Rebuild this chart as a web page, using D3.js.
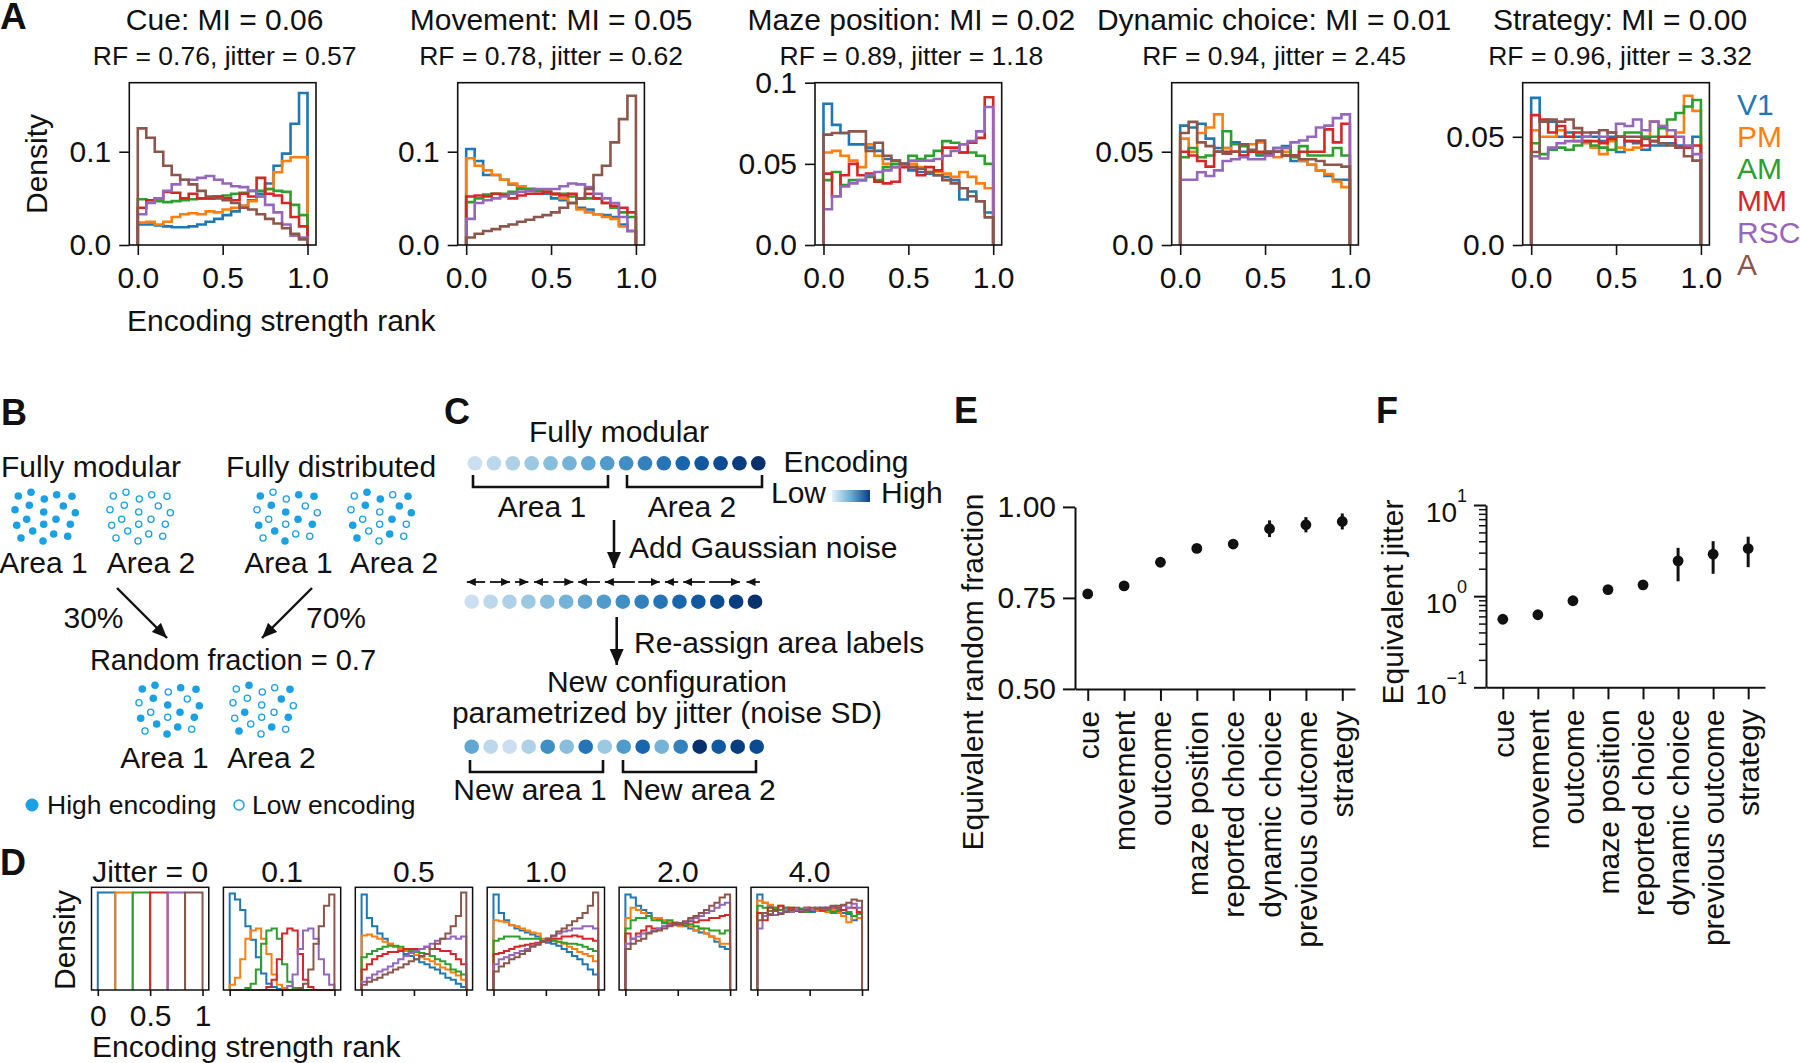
<!DOCTYPE html>
<html>
<head>
<meta charset="utf-8">
<script src="https://cdn.jsdelivr.net/npm/d3@7/dist/d3.min.js"></script>
<style>
html,body{margin:0;padding:0;background:#fff;}
svg{display:block;}
text{font-family:"Liberation Sans",Arial,Helvetica,sans-serif;fill:#111;}
</style>
</head>
<body>
<svg id="fig" width="1800" height="1063" viewBox="0 0 1800 1063"></svg>
<script>
// ================= DATA =================
const areas = ["V1","PM","AM","MM","RSC","A"];
const areaColors = ["#1f77b4","#ff7f0e","#2ca02c","#d62728","#9467bd","#8c564b"];
const binEdges = [0,0.05,0.1,0.15,0.2,0.25,0.3,0.35,0.4,0.45,0.5,0.55,0.6,0.65,0.7,0.75,0.8,0.85,0.9,0.95,1.0];

// Panel A
const aTitles = ["Cue: MI = 0.06","Movement: MI = 0.05","Maze position: MI = 0.02","Dynamic choice: MI = 0.01","Strategy: MI = 0.00"];
const aSubtitles = ["RF = 0.76, jitter = 0.57","RF = 0.78, jitter = 0.62","RF = 0.89, jitter = 1.18","RF = 0.94, jitter = 2.45","RF = 0.96, jitter = 3.32"];
const aXTicks = [0,0.5,1.0];
const aXTickLabels = ["0.0","0.5","1.0"];
const aYMax = [0.174,0.174,0.1,0.087,0.075];
const aYTicks = [[0,0.1],[0,0.1],[0,0.05,0.1],[0,0.05],[0,0.05]];
const aYTickLabels = [["0.0","0.1"],["0.0","0.1"],["0.0","0.05","0.1"],["0.0","0.05"],["0.0","0.05"]];

const cueHist = [
 [0.022,0.022,0.021,0.02,0.019,0.019,0.02,0.022,0.025,0.028,0.032,0.036,0.042,0.048,0.055,0.066,0.085,0.098,0.13,0.163],
 [0.024,0.025,0.022,0.025,0.03,0.033,0.034,0.033,0.036,0.035,0.038,0.04,0.042,0.047,0.052,0.06,0.078,0.09,0.094,0.094],
 [0.049,0.048,0.047,0.046,0.047,0.048,0.049,0.05,0.05,0.052,0.053,0.055,0.056,0.058,0.058,0.06,0.058,0.057,0.043,0.032],
 [0.04,0.048,0.05,0.057,0.056,0.05,0.055,0.05,0.05,0.052,0.05,0.048,0.055,0.052,0.072,0.055,0.053,0.045,0.03,0.02],
 [0.033,0.045,0.05,0.058,0.065,0.07,0.07,0.072,0.074,0.07,0.066,0.063,0.062,0.058,0.052,0.043,0.035,0.022,0.01,0.008],
 [0.125,0.115,0.1,0.085,0.075,0.07,0.065,0.058,0.052,0.05,0.048,0.045,0.04,0.038,0.033,0.028,0.023,0.018,0.012,0.006]
];
const movementHist = [
 [0.103,0.09,0.075,0.075,0.07,0.065,0.062,0.06,0.058,0.055,0.05,0.048,0.045,0.04,0.038,0.033,0.032,0.03,0.022,0.015],
 [0.093,0.085,0.08,0.075,0.07,0.066,0.063,0.06,0.058,0.057,0.054,0.05,0.045,0.038,0.035,0.033,0.03,0.028,0.02,0.015],
 [0.046,0.05,0.054,0.055,0.055,0.057,0.06,0.06,0.058,0.057,0.055,0.055,0.052,0.05,0.05,0.05,0.045,0.04,0.035,0.03],
 [0.052,0.053,0.052,0.055,0.053,0.05,0.053,0.055,0.055,0.057,0.055,0.053,0.055,0.05,0.055,0.05,0.045,0.042,0.04,0.035],
 [0.028,0.045,0.048,0.05,0.052,0.055,0.057,0.058,0.06,0.06,0.06,0.063,0.066,0.065,0.062,0.055,0.05,0.045,0.03,0.015],
 [0.008,0.012,0.015,0.017,0.02,0.022,0.025,0.027,0.03,0.032,0.035,0.04,0.045,0.05,0.06,0.075,0.085,0.11,0.135,0.16]
];
const mazePositionHist = [
 [0.087,0.074,0.069,0.062,0.062,0.06,0.058,0.053,0.052,0.05,0.046,0.045,0.044,0.043,0.042,0.04,0.028,0.033,0.027,0.02],
 [0.057,0.058,0.055,0.052,0.048,0.062,0.055,0.05,0.048,0.05,0.05,0.048,0.045,0.045,0.044,0.042,0.045,0.042,0.038,0.035],
 [0.04,0.045,0.037,0.04,0.04,0.042,0.04,0.048,0.05,0.05,0.055,0.053,0.055,0.058,0.064,0.063,0.057,0.057,0.055,0.05],
 [0.044,0.03,0.043,0.05,0.043,0.044,0.039,0.038,0.039,0.048,0.048,0.043,0.048,0.046,0.06,0.06,0.057,0.063,0.066,0.091],
 [0.022,0.03,0.036,0.038,0.04,0.043,0.045,0.046,0.048,0.05,0.052,0.052,0.052,0.053,0.055,0.058,0.062,0.064,0.07,0.085],
 [0.068,0.069,0.069,0.07,0.07,0.058,0.063,0.055,0.052,0.05,0.048,0.047,0.045,0.043,0.04,0.038,0.035,0.03,0.027,0.017]
];
const dynamicChoiceHist = [
 [0.064,0.063,0.065,0.057,0.052,0.052,0.055,0.05,0.05,0.048,0.05,0.052,0.053,0.045,0.045,0.043,0.04,0.037,0.035,0.035],
 [0.057,0.05,0.06,0.063,0.07,0.052,0.05,0.048,0.054,0.055,0.048,0.047,0.05,0.048,0.045,0.043,0.04,0.038,0.034,0.031],
 [0.047,0.052,0.047,0.048,0.05,0.061,0.054,0.053,0.05,0.049,0.05,0.05,0.052,0.047,0.053,0.048,0.048,0.048,0.052,0.048],
 [0.05,0.048,0.045,0.042,0.05,0.05,0.05,0.048,0.05,0.05,0.049,0.05,0.048,0.048,0.05,0.05,0.05,0.062,0.055,0.065],
 [0.035,0.035,0.039,0.037,0.04,0.045,0.046,0.047,0.046,0.046,0.048,0.052,0.052,0.055,0.056,0.058,0.063,0.064,0.068,0.07],
 [0.06,0.066,0.055,0.053,0.05,0.049,0.05,0.054,0.051,0.056,0.05,0.05,0.048,0.048,0.046,0.046,0.045,0.043,0.043,0.042]
];
const strategyHist = [
 [0.068,0.057,0.057,0.05,0.052,0.05,0.05,0.05,0.048,0.05,0.043,0.048,0.047,0.044,0.046,0.046,0.047,0.046,0.045,0.05],
 [0.053,0.05,0.05,0.053,0.05,0.048,0.047,0.045,0.042,0.048,0.045,0.044,0.045,0.05,0.057,0.055,0.05,0.052,0.069,0.062],
 [0.047,0.042,0.044,0.045,0.044,0.046,0.048,0.046,0.045,0.044,0.05,0.052,0.052,0.05,0.05,0.054,0.058,0.061,0.064,0.067],
 [0.06,0.058,0.052,0.055,0.05,0.052,0.048,0.048,0.047,0.049,0.05,0.048,0.048,0.046,0.048,0.05,0.05,0.045,0.045,0.046],
 [0.041,0.04,0.045,0.047,0.048,0.048,0.05,0.052,0.05,0.052,0.056,0.055,0.058,0.053,0.057,0.055,0.053,0.05,0.046,0.042],
 [0.043,0.057,0.058,0.057,0.058,0.054,0.052,0.052,0.053,0.052,0.05,0.05,0.05,0.049,0.048,0.047,0.046,0.045,0.041,0.039]
];

// Panel D (density in arbitrary units, fraction of axis height)
const dTitles = ["Jitter = 0","0.1","0.5","1.0","2.0","4.0"];
const dXTicks = [0,0.5,1];
const dXTickLabels = ["0","0.5","1"];
const jitter0Edges = [0,0.1667,0.3333,0.5,0.6667,0.8333,1];
const jitter0Density = [0.95,0.95,0.95,0.95,0.95,0.95];
const jitter01Hist = [
 [0.94,0.88,0.78,0.62,0.49,0.32,0.16,0.06,0.03,0.01,0,0,0,0,0,0,0,0,0,0],
 [0.05,0.12,0.3,0.5,0.58,0.6,0.5,0.35,0.15,0.05,0.02,0,0,0,0,0,0,0,0,0],
 [0,0,0,0.02,0.06,0.2,0.45,0.58,0.6,0.5,0.25,0.08,0.02,0,0,0,0,0,0,0],
 [0,0,0,0,0,0,0,0.03,0.1,0.3,0.55,0.6,0.58,0.35,0.1,0.03,0,0,0,0],
 [0,0,0,0,0,0,0,0,0,0,0,0.04,0.15,0.4,0.58,0.6,0.5,0.3,0.15,0.05],
 [0,0,0,0,0,0,0,0,0,0,0,0,0,0.02,0.06,0.2,0.45,0.62,0.82,0.93]
];
const jitter05Hist = [
 [0.93,0.7,0.62,0.55,0.5,0.45,0.42,0.38,0.35,0.33,0.3,0.27,0.25,0.22,0.2,0.16,0.12,0.1,0.06,0.03],
 [0.53,0.54,0.52,0.5,0.47,0.45,0.42,0.4,0.38,0.36,0.34,0.32,0.3,0.28,0.25,0.22,0.2,0.17,0.14,0.1],
 [0.32,0.35,0.38,0.4,0.42,0.43,0.43,0.42,0.4,0.38,0.37,0.36,0.35,0.33,0.3,0.28,0.25,0.2,0.18,0.15],
 [0.2,0.25,0.3,0.33,0.35,0.37,0.37,0.38,0.4,0.4,0.4,0.4,0.42,0.4,0.4,0.38,0.38,0.35,0.3,0.25],
 [0.08,0.12,0.15,0.18,0.2,0.23,0.26,0.3,0.33,0.36,0.38,0.4,0.42,0.45,0.48,0.5,0.5,0.52,0.5,0.52],
 [0.05,0.08,0.1,0.12,0.15,0.17,0.2,0.22,0.25,0.28,0.3,0.33,0.35,0.4,0.45,0.5,0.55,0.62,0.72,0.95]
];
const jitter10Hist = [
 [0.93,0.75,0.68,0.63,0.6,0.58,0.56,0.54,0.52,0.48,0.46,0.45,0.43,0.4,0.37,0.33,0.3,0.25,0.2,0.15],
 [0.68,0.67,0.66,0.63,0.62,0.6,0.58,0.56,0.55,0.5,0.5,0.48,0.47,0.45,0.42,0.4,0.37,0.35,0.33,0.28],
 [0.48,0.5,0.52,0.52,0.52,0.5,0.5,0.5,0.5,0.48,0.5,0.48,0.47,0.46,0.45,0.45,0.44,0.42,0.4,0.38],
 [0.35,0.36,0.38,0.4,0.42,0.43,0.44,0.45,0.46,0.47,0.48,0.5,0.5,0.52,0.52,0.53,0.52,0.5,0.5,0.48],
 [0.25,0.3,0.32,0.34,0.36,0.38,0.4,0.43,0.45,0.47,0.5,0.52,0.55,0.57,0.58,0.6,0.6,0.62,0.62,0.6],
 [0.18,0.23,0.26,0.3,0.32,0.35,0.38,0.42,0.44,0.47,0.5,0.53,0.57,0.6,0.63,0.67,0.7,0.75,0.82,0.95]
];
const jitter20Hist = [
 [0.93,0.9,0.82,0.78,0.75,0.7,0.68,0.66,0.65,0.65,0.63,0.62,0.6,0.58,0.56,0.55,0.52,0.47,0.42,0.4],
 [0.7,0.8,0.78,0.75,0.72,0.7,0.7,0.68,0.66,0.66,0.62,0.65,0.62,0.58,0.6,0.55,0.52,0.5,0.45,0.45],
 [0.6,0.68,0.7,0.7,0.72,0.68,0.68,0.65,0.68,0.65,0.65,0.63,0.64,0.62,0.6,0.6,0.58,0.58,0.55,0.58],
 [0.55,0.5,0.55,0.58,0.62,0.6,0.6,0.62,0.63,0.65,0.64,0.65,0.67,0.66,0.68,0.68,0.7,0.7,0.72,0.73],
 [0.45,0.5,0.52,0.55,0.56,0.58,0.6,0.62,0.63,0.63,0.65,0.66,0.68,0.7,0.72,0.75,0.77,0.8,0.83,0.85],
 [0.4,0.45,0.48,0.5,0.55,0.57,0.58,0.6,0.62,0.64,0.65,0.67,0.7,0.72,0.75,0.78,0.82,0.85,0.9,0.93]
];
const jitter40Hist = [
 [0.93,0.85,0.82,0.8,0.78,0.8,0.78,0.77,0.79,0.78,0.76,0.77,0.8,0.77,0.76,0.78,0.75,0.74,0.68,0.7],
 [0.87,0.85,0.83,0.8,0.82,0.78,0.8,0.78,0.76,0.8,0.78,0.77,0.78,0.76,0.78,0.75,0.72,0.66,0.72,0.7],
 [0.82,0.8,0.77,0.8,0.78,0.8,0.77,0.78,0.79,0.76,0.78,0.8,0.77,0.78,0.75,0.77,0.78,0.76,0.72,0.74],
 [0.75,0.68,0.8,0.78,0.82,0.76,0.8,0.77,0.78,0.8,0.77,0.79,0.78,0.8,0.8,0.82,0.78,0.8,0.8,0.76],
 [0.6,0.72,0.74,0.73,0.75,0.77,0.76,0.78,0.77,0.8,0.78,0.8,0.79,0.8,0.81,0.8,0.82,0.8,0.84,0.8],
 [0.68,0.75,0.73,0.77,0.74,0.76,0.78,0.8,0.76,0.78,0.8,0.79,0.8,0.8,0.82,0.8,0.83,0.85,0.88,0.87]
];

// Panels E & F
const variables = ["cue","movement","outcome","maze position","reported choice","dynamic choice","previous outcome","strategy"];
const rfValues = [0.761,0.783,0.848,0.886,0.898,0.94,0.951,0.96];
const rfErr = [0.004,0.004,0.005,0.006,0.006,0.023,0.021,0.022];
const rfTicks = [0.5,0.75,1.0];
const rfTickLabels = ["0.50","0.75","1.00"];
const jitterValues = [0.558,0.625,0.89,1.18,1.33,2.44,2.89,3.33];
const jitterLo = [0.54,0.6,0.85,1.12,1.26,1.455,1.76,2.08];
const jitterHi = [0.58,0.65,0.93,1.24,1.4,3.39,4.01,4.49];
const jitterMajorTicks = [0.1,1,10];
const jitterExponents = ["\u22121","0","1"];
const jitterMinorTicks = [0.2,0.3,0.4,0.5,0.6,0.7,0.8,0.9,2,3,4,5,6,7,8,9];

// Panel B schematic
const dotPattern = [[-26.7,-21],[-14,-24.7],[-0.7,-18],[11.7,-22.3],[27,-20.7],[-15.7,-11.7],[-30,-7.3],[-1.3,-5],[18.3,-11],[30.3,-4.3],[-18.3,2.3],[11,2.3],[25.3,7.3],[-28.3,8.3],[-1.3,7.3],[-12.3,14],[8.7,17],[-24,21],[-2,24],[22.7,19.3]];
const modularArea1 = [1,1,1,1,1,1,1,1,1,1,1,1,1,1,1,1,1,1,1,1];
const modularArea2 = [0,0,0,0,0,0,0,0,0,0,0,0,0,0,0,0,0,0,0,0];
const distributedArea1 = [1,0,0,1,1,1,0,1,0,0,0,1,1,1,0,1,0,0,1,0];
const distributedArea2 = [0,1,1,0,1,1,0,0,1,1,0,1,0,1,0,0,1,1,0,0];
const mixedArea1 = [1,1,0,1,1,1,0,1,0,1,0,1,1,1,0,1,1,0,1,0];
const mixedArea2 = [0,1,0,0,1,0,0,0,1,0,1,0,1,0,0,0,1,1,0,0];

// Panel C schematic
const neuronRanks = [0,1,2,3,4,5,6,7,8,9,10,11,12,13,14,15];
const shuffledRanks = [6,1,0,2,8,4,10,3,7,11,5,9,15,12,14,13];
const noiseArrows = [[0.71,-0.26],[0.97,2.03],[2.29,3.0],[4.06,3.3],[4.32,5.38],[6.79,5.64],[8.64,7.05],[8.82,9.96],[10.93,10.23],[12.35,11.2],[12.57,14.2],[15.26,14.55]];

// ================= DRAW =================
const svg = d3.select("#fig");
const INK = "#111";
const FS = 30;
const defs = svg.append("defs");
function marker(id, len, wid) {
  defs.append("marker").attr("id", id).attr("markerUnits", "userSpaceOnUse")
    .attr("viewBox", `0 0 ${len} ${wid}`).attr("refX", len).attr("refY", wid / 2)
    .attr("markerWidth", len).attr("markerHeight", wid).attr("orient", "auto")
    .append("path").attr("d", `M0,0L${len},${wid / 2}L0,${wid}Z`).attr("fill", INK);
}
marker("arrowB", 15, 13);
marker("arrowC", 16, 14);
marker("arrowS", 9, 8);

function txt(x, y, s, o = {}) {
  const t = svg.append("text").attr("x", x).attr("y", y).text(s)
    .attr("font-size", o.size || FS).attr("text-anchor", o.anchor || "start");
  if (o.weight) t.attr("font-weight", o.weight);
  if (o.fill) t.style("fill", o.fill);
  if (o.dy) t.attr("dy", o.dy);
  if (o.rotate) t.attr("transform", `rotate(${o.rotate},${x},${y})`);
  return t;
}
function styleAxis(ax, size) {
  ax.attr("font-family", null).attr("font-size", null);
  ax.selectAll("line").attr("stroke", INK).attr("stroke-width", 1.6);
  ax.selectAll("path.domain").attr("stroke", INK).attr("stroke-width", 1.6);
  ax.selectAll("text").attr("font-size", size).style("fill", INK);
}
const lineGen = d3.line();
function stepPath(vals, edges, x, y) {
  const pts = [[x(edges[0]), y(0)]];
  vals.forEach((v, i) => { pts.push([x(edges[i]), y(v)]); pts.push([x(edges[i + 1]), y(v)]); });
  pts.push([x(edges[edges.length - 1]), y(0)]);
  return lineGen(pts);
}

// ---------- Panel A ----------
const aHists = [cueHist, movementHist, mazePositionHist, dynamicChoiceHist, strategyHist];
const aLefts = [129.3, 457.7, 815, 1171.7, 1522.7];
const aTitleShift = [2, 0, 3, 9, 4];
const aW = 186.7, aTop = 82.7, aBottom = 245;
aHists.forEach((hist, k) => {
  const L = aLefts[k];
  const x = d3.scaleLinear().domain([-0.05, 1.05]).range([L, L + aW]);
  const y = d3.scaleLinear().domain([0, aYMax[k]]).range([aBottom, aTop]);
  const g = svg.append("g");
  hist.forEach((vals, a) => {
    g.append("path").attr("d", stepPath(vals, binEdges, x, y)).attr("fill", "none")
      .attr("stroke", areaColors[a]).attr("stroke-width", 2.6);
  });
  g.append("rect").attr("x", L).attr("y", aTop).attr("width", aW).attr("height", aBottom - aTop)
    .attr("fill", "none").attr("stroke", INK).attr("stroke-width", 1.6);
  const xa = g.append("g").attr("transform", `translate(0,${aBottom})`)
    .call(d3.axisBottom(x).tickValues(aXTicks).tickFormat((d, i) => aXTickLabels[i]).tickSize(10).tickSizeOuter(0).tickPadding(12));
  const ya = g.append("g").attr("transform", `translate(${L},0)`)
    .call(d3.axisLeft(y).tickValues(aYTicks[k]).tickFormat((d, i) => aYTickLabels[k][i]).tickSize(10).tickSizeOuter(0).tickPadding(8));
  [xa, ya].forEach(ax => { ax.select(".domain").remove(); styleAxis(ax, FS); });
  const cx = L + aW / 2 + aTitleShift[k];
  txt(cx, 30, aTitles[k], { anchor: "middle" });
  txt(cx, 65, aSubtitles[k], { anchor: "middle", size: 26.5 });
});
txt(36, 164, "Density", { anchor: "middle", rotate: -90, dy: "0.35em" });
txt(127, 331, "Encoding strength rank");
areas.forEach((a, i) => txt(1737, 115 + i * 32, a, { fill: areaColors[i] }));

// ---------- Panel B ----------
const dotBlue = "#1ba1e2";
function cluster(cx, cy, mask) {
  dotPattern.forEach(([dx, dy], i) => {
    svg.append("circle").attr("cx", cx + dx).attr("cy", cy + dy)
      .attr("r", mask[i] ? 3.8 : 3.1)
      .attr("fill", mask[i] ? dotBlue : "#fff")
      .attr("stroke", dotBlue).attr("stroke-width", mask[i] ? 0 : 1.3);
  });
}
txt(1, 477, "Fully modular");
txt(226, 477, "Fully distributed");
cluster(45, 517, modularArea1);
cluster(140, 517, modularArea2);
cluster(287, 517, distributedArea1);
cluster(381, 517, distributedArea2);
txt(43.5, 573, "Area 1", { anchor: "middle" });
txt(151, 573, "Area 2", { anchor: "middle" });
txt(288.5, 573, "Area 1", { anchor: "middle" });
txt(394, 573, "Area 2", { anchor: "middle" });
svg.append("line").attr("x1", 117).attr("y1", 588).attr("x2", 167).attr("y2", 638)
  .attr("stroke", INK).attr("stroke-width", 2.4).attr("marker-end", "url(#arrowB)");
svg.append("line").attr("x1", 312).attr("y1", 588).attr("x2", 262).attr("y2", 638)
  .attr("stroke", INK).attr("stroke-width", 2.4).attr("marker-end", "url(#arrowB)");
txt(93.5, 628, "30%", { anchor: "middle" });
txt(336, 628, "70%", { anchor: "middle" });
txt(233, 670, "Random fraction = 0.7", { anchor: "middle", size: 29 });
cluster(169, 710, mixedArea1);
cluster(263, 710, mixedArea2);
txt(164.5, 768, "Area 1", { anchor: "middle" });
txt(271.5, 768, "Area 2", { anchor: "middle" });
svg.append("circle").attr("cx", 32).attr("cy", 805).attr("r", 6.5).attr("fill", dotBlue);
txt(47, 814, "High encoding", { size: 26.5 });
svg.append("circle").attr("cx", 239).attr("cy", 805).attr("r", 5).attr("fill", "#fff").attr("stroke", dotBlue).attr("stroke-width", 1.5);
txt(252, 814, "Low encoding", { size: 26.5 });

// ---------- Panel C ----------
const blue = r => d3.interpolateBlues(0.22 + r * 0.052);
const cx1 = d3.scaleLinear().domain([0, 15]).range([475, 758.3]);
const cx2 = d3.scaleLinear().domain([0, 15]).range([471.7, 755]);
const cx3 = d3.scaleLinear().domain([0, 15]).range([471.7, 756.7]);
txt(619, 442, "Fully modular", { anchor: "middle" });
neuronRanks.forEach((r, i) => svg.append("circle").attr("cx", cx1(i)).attr("cy", 463.3).attr("r", 7.3).attr("fill", blue(r)));
function bracket(x1, x2, yTop, yBot) {
  svg.append("path").attr("d", `M${x1},${yTop}V${yBot}H${x2}V${yTop}`).attr("fill", "none")
    .attr("stroke", INK).attr("stroke-width", 2.6);
}
bracket(473, 608, 475, 487);
bracket(627, 762, 475, 487);
txt(542, 517, "Area 1", { anchor: "middle" });
txt(692, 517, "Area 2", { anchor: "middle" });
txt(846, 472, "Encoding", { anchor: "middle" });
const grad = defs.append("linearGradient").attr("id", "encGrad");
[0, 0.5, 1].forEach(o => grad.append("stop").attr("offset", o).attr("stop-color", d3.interpolateBlues(0.08 + o * 0.87)));
txt(771, 503, "Low");
svg.append("rect").attr("x", 832).attr("y", 490).attr("width", 38).attr("height", 12).attr("fill", "url(#encGrad)");
txt(881, 503, "High");
svg.append("line").attr("x1", 614).attr("y1", 520).attr("x2", 614).attr("y2", 568)
  .attr("stroke", INK).attr("stroke-width", 2.6).attr("marker-end", "url(#arrowC)");
txt(629, 558, "Add Gaussian noise");
noiseArrows.forEach(([t, h]) => {
  svg.append("line").attr("x1", cx2(t)).attr("y1", 582).attr("x2", cx2(h)).attr("y2", 582)
    .attr("stroke", INK).attr("stroke-width", 1.8).attr("marker-end", "url(#arrowS)");
});
neuronRanks.forEach((r, i) => svg.append("circle").attr("cx", cx2(i)).attr("cy", 601.7).attr("r", 7.3).attr("fill", blue(r)));
svg.append("line").attr("x1", 616.7).attr("y1", 617).attr("x2", 616.7).attr("y2", 665)
  .attr("stroke", INK).attr("stroke-width", 2.6).attr("marker-end", "url(#arrowC)");
txt(634, 653, "Re-assign area labels");
txt(667, 692, "New configuration", { anchor: "middle" });
txt(667, 723, "parametrized by jitter (noise SD)", { anchor: "middle" });
shuffledRanks.forEach((r, i) => svg.append("circle").attr("cx", cx3(i)).attr("cy", 746.7).attr("r", 7.3).attr("fill", blue(r)));
bracket(470, 603, 760, 772);
bracket(623, 756, 760, 772);
txt(530, 800, "New area 1", { anchor: "middle" });
txt(699, 800, "New area 2", { anchor: "middle" });

// ---------- Panel D ----------
const dHists = [null, jitter01Hist, jitter05Hist, jitter10Hist, jitter20Hist, jitter40Hist];
const dLeft0 = 91.5, dStep = 131.9, dW = 117.3, dTop = 887.3, dBottom = 990;
dTitles.forEach((title, k) => {
  const L = dLeft0 + k * dStep;
  const x = d3.scaleLinear().domain([-0.06, 1.06]).range([L, L + dW]);
  const y = d3.scaleLinear().domain([0, 1]).range([dBottom, dTop]);
  const g = svg.append("g");
  if (k === 0) {
    jitter0Density.forEach((h, a) => {
      g.append("path").attr("d", stepPath([h], [jitter0Edges[a], jitter0Edges[a + 1]], x, y))
        .attr("fill", "none").attr("stroke", areaColors[a]).attr("stroke-width", 2);
    });
  } else {
    dHists[k].forEach((vals, a) => {
      g.append("path").attr("d", stepPath(vals, binEdges, x, y)).attr("fill", "none")
        .attr("stroke", areaColors[a]).attr("stroke-width", 2);
    });
  }
  g.append("rect").attr("x", L).attr("y", dTop).attr("width", dW).attr("height", dBottom - dTop)
    .attr("fill", "none").attr("stroke", INK).attr("stroke-width", 1.5);
  const xa = g.append("g").attr("transform", `translate(0,${dBottom})`)
    .call(d3.axisBottom(x).tickValues(dXTicks).tickFormat((d, i) => k === 0 ? dXTickLabels[i] : "").tickSize(6).tickSizeOuter(0).tickPadding(9));
  xa.select(".domain").remove();
  styleAxis(xa, FS);
  txt(L + dW / 2, 881.7, title, { anchor: "middle" });
});
txt(64.5, 940, "Density", { anchor: "middle", rotate: -90, dy: "0.35em" });
txt(92, 1056.7, "Encoding strength rank");

// ---------- Panel E ----------
{
  const x = d3.scalePoint().domain(variables).range([1075, 1355]).padding(0.35);
  const y = d3.scaleLinear().domain([0.5, 1.0]).range([688.9, 506.9]);
  const ya = svg.append("g").attr("transform", "translate(1075,0)")
    .call(d3.axisLeft(y).tickValues(rfTicks).tickFormat((d, i) => rfTickLabels[i]).tickSize(12).tickSizeOuter(0).tickPadding(7));
  const xa = svg.append("g").attr("transform", "translate(0,688.9)")
    .call(d3.axisBottom(x).tickSize(12).tickSizeOuter(0));
  styleAxis(ya, FS); styleAxis(xa, FS);
  ya.selectAll("line,path").attr("stroke-width", 2);
  xa.selectAll("line,path").attr("stroke-width", 2);
  xa.selectAll("text").attr("transform", "rotate(-90)").attr("text-anchor", "end")
    .attr("x", -22).attr("y", 0).attr("dy", "0.35em");
  variables.forEach((v, i) => {
    svg.append("line").attr("x1", x(v)).attr("x2", x(v)).attr("y1", y(rfValues[i] - rfErr[i])).attr("y2", y(rfValues[i] + rfErr[i]))
      .attr("stroke", INK).attr("stroke-width", 3);
    svg.append("circle").attr("cx", x(v)).attr("cy", y(rfValues[i])).attr("r", 5.4).attr("fill", INK);
  });
  txt(972, 672, "Equivalent random fraction", { anchor: "middle", rotate: -90, dy: "0.35em" });
}

// ---------- Panel F ----------
{
  const x = d3.scalePoint().domain(variables).range([1486, 1765]).padding(0.48);
  const y = d3.scaleLog().domain([0.1, 10]).range([687.3, 505]);
  const ya = svg.append("g").attr("transform", "translate(1486,0)")
    .call(d3.axisLeft(y).tickValues(jitterMajorTicks).tickFormat("").tickSize(12).tickSizeOuter(0));
  const ym = svg.append("g").attr("transform", "translate(1486,0)")
    .call(d3.axisLeft(y).tickValues(jitterMinorTicks).tickFormat("").tickSize(7).tickSizeOuter(0));
  const xa = svg.append("g").attr("transform", "translate(0,687.3)")
    .call(d3.axisBottom(x).tickSize(12).tickSizeOuter(0));
  styleAxis(ya, FS); styleAxis(ym, FS); styleAxis(xa, FS);
  ym.select(".domain").remove();
  ya.selectAll("line,path").attr("stroke-width", 2);
  ym.selectAll("line").attr("stroke-width", 1.5);
  xa.selectAll("line,path").attr("stroke-width", 2);
  xa.selectAll("text").attr("transform", "rotate(-90)").attr("text-anchor", "end")
    .attr("x", -22).attr("y", 0).attr("dy", "0.35em");
  jitterMajorTicks.forEach((v, i) => {
    const t = svg.append("text").attr("x", 1467).attr("y", y(v) + 17).attr("text-anchor", "end").attr("font-size", 28);
    t.append("tspan").text("10");
    t.append("tspan").text(jitterExponents[i]).attr("font-size", 18).attr("dy", -20);
  });
  variables.forEach((v, i) => {
    svg.append("line").attr("x1", x(v)).attr("x2", x(v)).attr("y1", y(jitterLo[i])).attr("y2", y(jitterHi[i]))
      .attr("stroke", INK).attr("stroke-width", 3);
    svg.append("circle").attr("cx", x(v)).attr("cy", y(jitterValues[i])).attr("r", 5.4).attr("fill", INK);
  });
  txt(1392, 602, "Equivalent jitter", { anchor: "middle", rotate: -90, dy: "0.35em" });
}

// ---------- Panel letters ----------
txt(0, 29, "A", { weight: "bold", size: 37 });
txt(1, 425, "B", { weight: "bold", size: 36 });
txt(444, 424, "C", { weight: "bold", size: 36 });
txt(0, 875, "D", { weight: "bold", size: 36 });
txt(954, 423, "E", { weight: "bold", size: 36 });
txt(1376, 423, "F", { weight: "bold", size: 36 });
</script>
</body>
</html>
